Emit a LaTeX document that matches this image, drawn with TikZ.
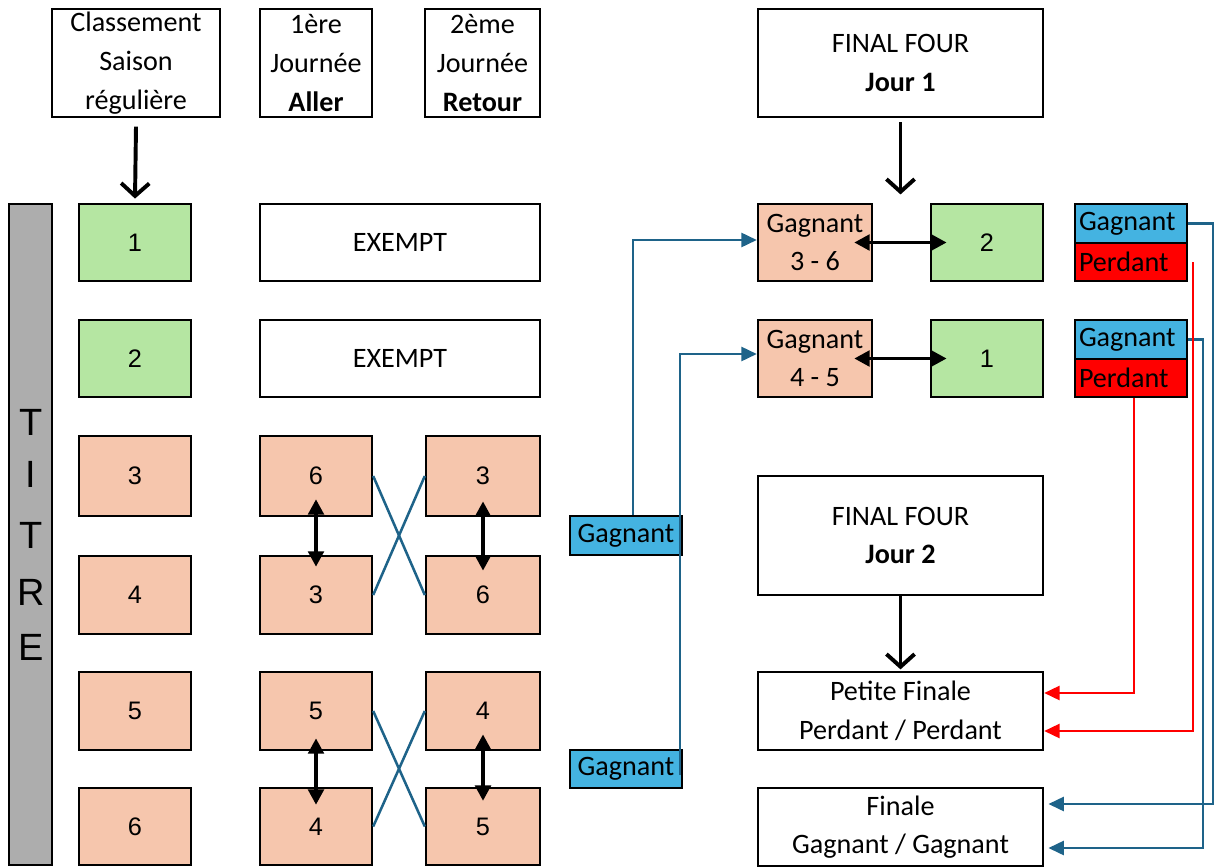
\documentclass[tikz,border=0pt]{standalone}
\usepackage{fontspec}
\setmainfont{Carlito}
\newfontfamily\numfont{Liberation Sans}
\usetikzlibrary{arrows.meta}
\definecolor{cgreen}{HTML}{B5E6A2}
\definecolor{corange}{HTML}{F6C6AD}
\definecolor{cbluebox}{HTML}{44B3E1}
\definecolor{cgray}{HTML}{ADADAD}
\definecolor{cconn}{HTML}{1E6389}
\newcommand\mybox[7]{\node[#2, minimum width={(#5-#3)*0.025cm}, minimum height={(#6-#4)*0.025cm}] (#1) at ({(#3+#5)/2},{(#4+#6)/2}) {#7};}
\tikzset{
  box/.style={draw, line width=1.7pt, inner sep=0pt, font=\fontsize{20}{27.5}\selectfont, align=center},
  numbox/.style={box, font=\numfont\fontsize{18}{22}\selectfont},
  greenbox/.style={numbox, fill=cgreen},
  orangebox/.style={numbox, fill=corange},
  gbox/.style={box, fill=cbluebox},
  lbox/.style={box, inner xsep=0.1cm, text width=2.6cm, align=left},
  titrebar/.style={draw, line width=1.7pt, fill=cgray, inner sep=0pt},
  letter/.style={font=\numfont\fontsize{27}{30}\selectfont, inner sep=0pt},
  downarrow/.style={line width=2.8pt, -{Straight Barb[length=9pt,width=20pt]}},
  dblarrow/.style={line width=2.8pt, {Triangle[length=11pt,width=11pt]}-{Triangle[length=11pt,width=11pt]}},
  bconn/.style={color=cconn, line width=1.8pt, -{Triangle[length=11pt,width=10pt]}},
  rconn/.style={color=red, line width=1.8pt, -{Triangle[length=11pt,width=10pt]}},
  xline/.style={color=cconn, line width=1.8pt}
}
\begin{document}
\begin{tikzpicture}[x=0.025cm,y=-0.025cm]
\useasboundingbox (0,0) rectangle (1215,867);
% headers
\mybox{hcl}{box}{52}{9}{220}{117}{Classement\\Saison\\régulière}
\mybox{hal}{box}{260}{9}{372}{117}{1ère\\Journée\\\textbf{Aller}}
\mybox{hre}{box}{425}{9}{540}{117}{2ème\\Journée\\\textbf{Retour}}
% titre
\mybox{titre}{titrebar}{9}{204}{52}{865}{}
\node[letter] (t1) at (31,422) {T};
\node[letter] (t2) at (31,474) {I};
\node[letter] (t3) at (31,535) {T};
\node[letter] (t4) at (31,592) {R};
\node[letter] (t5) at (31,647) {E};
% left column
\mybox{b1}{greenbox}{79}{204}{191}{281}{1}
\mybox{b2}{greenbox}{79}{320}{191}{397}{2}
\mybox{b3}{orangebox}{79}{436}{191}{516}{3}
\mybox{b4}{orangebox}{79}{556}{191}{634}{4}
\mybox{b5}{orangebox}{79}{672}{191}{750}{5}
\mybox{b6}{orangebox}{79}{788}{191}{865}{6}
% aller
\mybox{ex1}{box}{260}{204}{540}{281}{EXEMPT}
\mybox{ex2}{box}{260}{320}{540}{397}{EXEMPT}
\mybox{a6}{orangebox}{260}{436}{372}{516}{6}
\mybox{a3}{orangebox}{260}{556}{372}{634}{3}
\mybox{a5}{orangebox}{260}{672}{372}{750}{5}
\mybox{a4}{orangebox}{260}{788}{372}{865}{4}
% retour
\mybox{c3}{orangebox}{426}{436}{540}{516}{3}
\mybox{c6}{orangebox}{426}{556}{540}{634}{6}
\mybox{c4}{orangebox}{426}{672}{540}{750}{4}
\mybox{c5}{orangebox}{426}{788}{540}{865}{5}
% gagnant boxes
\mybox{gw1}{gbox}{570}{516}{682}{555}{Gagnant}
\mybox{gw2}{gbox}{570}{750}{682}{788}{Gagnant}
% final four
\mybox{ff1}{box}{758}{9}{1043}{117}{FINAL FOUR\\\textbf{Jour 1}}
\mybox{g36}{box, fill=corange}{758}{204}{872}{281}{Gagnant\\3 - 6}
\mybox{r2}{greenbox}{931}{204}{1043}{281}{2}
\mybox{g45}{box, fill=corange}{758}{320}{872}{397}{Gagnant\\4 - 5}
\mybox{r1}{greenbox}{931}{320}{1043}{397}{1}
\mybox{gp1g}{lbox, fill=cbluebox}{1075}{204}{1187}{243}{Gagnant}
\mybox{gp1p}{lbox, fill=red}{1075}{243}{1187}{281}{Perdant}
\mybox{gp2g}{lbox, fill=cbluebox}{1075}{320}{1187}{359}{Gagnant}
\mybox{gp2p}{lbox, fill=red}{1075}{359}{1187}{397}{Perdant}
\mybox{ff2}{box}{758}{476}{1043}{595}{FINAL FOUR\\\textbf{Jour 2}}
\mybox{pf}{box}{758}{672}{1043}{750}{Petite Finale\\Perdant / Perdant}
\mybox{fin}{box}{758}{788}{1043}{866}{Finale\\Gagnant / Gagnant}
% down arrows
\draw[downarrow] ([yshift=-6pt]hcl.south) -- ([yshift=3pt]b1.north);
\draw[downarrow] ([yshift=-3pt]ff1.south) -- ++(0,72);
\draw[downarrow] (ff2.south) -- ([yshift=1pt]pf.north);
% double arrows
\draw[dblarrow] ([yshift=12.8pt]a6.south) -- ([yshift=-8.5pt]a3.north);
\draw[dblarrow] ([yshift=11.3pt]c3.south) -- ([yshift=-11.3pt]c6.north);
\draw[dblarrow] ([yshift=9.2pt]a5.south) -- ([yshift=-12.8pt]a4.north);
\draw[dblarrow] ([yshift=12pt]c4.south) -- ([yshift=-10pt]c5.north);
\draw[dblarrow] ([xshift=-13.5pt]g36.east) -- ([xshift=12pt]r2.west);
\draw[dblarrow] ([xshift=-13.5pt]g45.east) -- ([xshift=12pt]r1.west);
% crossing lines
\draw[xline] (a6.east) -- (c6.west);
\draw[xline] (a3.east) -- (c3.west);
\draw[xline] (a5.east) -- (c5.west);
\draw[xline] (a4.east) -- (c4.west);
% connectors to final four
\coordinate (p1) at (633,0);
\coordinate (q1) at (0,240);
\draw[bconn] (gw1.north -| p1) |- (g36.west |- q1);
\coordinate (p2) at (680,775);
\coordinate (q2) at (0,354);
\draw[bconn] (p2) |- (g45.west |- q2);
% winners / losers
\coordinate (k1) at (1213,804);
\draw[bconn, shorten >=3pt] (gp1g.east) -| (k1) -- (k1 -| fin.east);
\coordinate (k2) at (1203,848);
\draw[bconn, shorten >=3pt] (gp2g.east) -| (k2) -- (k2 -| fin.east);
\coordinate (k3) at (1134,693);
\draw[rconn] (gp2p.south -| k3) -- (k3) -- (k3 -| pf.east);
\coordinate (k4) at (1193,731);
\draw[rconn] (gp1p.east -| k4) -- (k4) -- (k4 -| pf.east);
\end{tikzpicture}
\end{document}
